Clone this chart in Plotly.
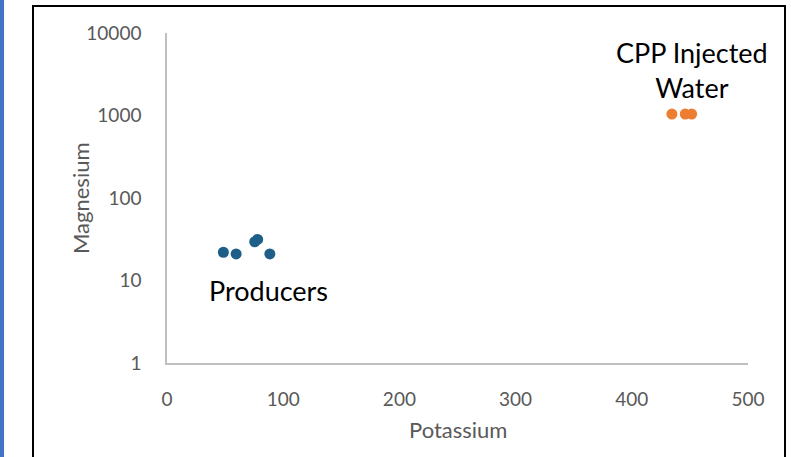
import plotly.graph_objects as go

# Potassium vs magnesium concentrations
producers_potassium = [48.5, 59.5, 75.5, 78.0, 88.5]
producers_magnesium = [22.0, 21.0, 29.5, 31.5, 21.0]

injected_potassium = [434.5, 446.0, 451.5]
injected_magnesium = [1040.0, 1040.0, 1040.0]

y_tick_values = [1, 10, 100, 1000, 10000]
y_tick_labels = ["1", "10", "100", "1000", "10000"]
x_tick_values = [0, 100, 200, 300, 400, 500]

W, H = 791, 457
L, R, T, B = 167, 43, 33, 94
pw, ph = W - L - R, H - T - B


def px(x):
    return (x - L) / pw


def py(y):
    return (H - B - y) / ph


fig = go.Figure()
fig.add_trace(go.Scatter(
    x=producers_potassium, y=producers_magnesium, mode="markers",
    marker=dict(color="#1D5F88", size=11, line=dict(width=0)),
    name="Producers", showlegend=False,
))
fig.add_trace(go.Scatter(
    x=injected_potassium, y=injected_magnesium, mode="markers",
    marker=dict(color="#ED7D31", size=11, line=dict(width=0)),
    name="CPP Injected Water", showlegend=False,
))

font_family = "Lato, Open Sans, sans-serif"
grey = "#595959"

fig.update_layout(
    width=W, height=H,
    margin=dict(l=L, r=R, t=T, b=B),
    paper_bgcolor="white", plot_bgcolor="white",
    font=dict(family=font_family, color=grey),
    xaxis=dict(
        range=[0, 500], tickvals=x_tick_values, showgrid=False, zeroline=False,
        showline=True, linecolor="#BFBFBF", linewidth=1.5,
        ticks="", tickfont=dict(size=19, color=grey), ticklabelstandoff=18,
        fixedrange=True,
    ),
    yaxis=dict(
        type="log", range=[0, 4], tickvals=y_tick_values, ticktext=y_tick_labels,
        showgrid=False, zeroline=False,
        showline=True, linecolor="#BFBFBF", linewidth=1.5,
        ticks="", tickfont=dict(size=19, color=grey), ticklabelstandoff=20,
        fixedrange=True,
    ),
    annotations=[
        # axis titles
        dict(x=px(458), y=py(429), xref="paper", yref="paper", text="Potassium",
             showarrow=False, font=dict(size=22, color=grey, family=font_family),
             xanchor="center", yanchor="middle"),
        dict(x=px(80), y=py(198), xref="paper", yref="paper", text="Magnesium",
             showarrow=False, textangle=-90,
             font=dict(size=22, color=grey, family=font_family),
             xanchor="center", yanchor="middle"),
        # group labels
        dict(x=px(268), y=py(290), xref="paper", yref="paper", text="Producers",
             showarrow=False, font=dict(size=27, color="black", family=font_family),
             xanchor="center", yanchor="middle"),
        dict(x=px(692), y=py(70), xref="paper", yref="paper",
             text="CPP Injected<br>Water", showarrow=False,
             font=dict(size=27, color="black", family=font_family),
             xanchor="center", yanchor="middle", align="center"),
    ],
    shapes=[
        # outer frame
        dict(type="rect", xref="paper", yref="paper",
             x0=px(33), x1=px(785), y0=py(470), y1=py(6),
             line=dict(color="black", width=2), fillcolor="rgba(0,0,0,0)", layer="below"),
        # accent strip on the left edge
        dict(type="rect", xref="paper", yref="paper",
             x0=px(0), x1=px(4), y0=py(470), y1=py(-10),
             line=dict(width=0), fillcolor="#4472C4", layer="below"),
    ],
)

fig.write_html("out.html")
